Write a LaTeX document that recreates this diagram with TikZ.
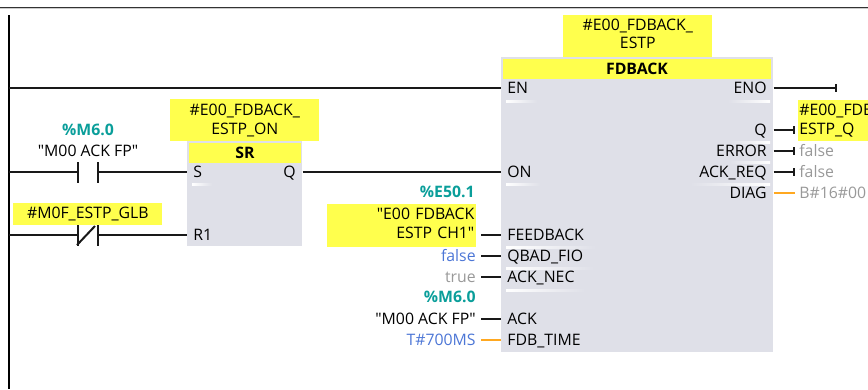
\documentclass[tikz,border=0pt]{standalone}
\usepackage{fontspec}
\defaultfontfeatures[\rmfamily]{}
\setmainfont{Open Sans}
\usepackage{xcolor}
\usetikzlibrary{arrows.meta}
\definecolor{opyellow}{HTML}{FFFF4D}
\definecolor{boxgray}{HTML}{DFE0E8}
\definecolor{addrteal}{HTML}{0A9E9A}
\definecolor{constblue}{HTML}{4C76D6}
\definecolor{constgray}{HTML}{999999}
\definecolor{wireorange}{HTML}{FFA820}
\newcommand{\lowpad}{\rule[-3pt]{0pt}{0pt}}
\tikzset{
	txt/.style={inner sep=0pt, font=\fontsize{9}{10.7}\selectfont, text=black},
	oneline/.style={txt, text height=6.5pt, text depth=0.5pt},
	pinl/.style={oneline, anchor=west},
	pinr/.style={oneline, anchor=east},
	opnd/.style={oneline, anchor=east},
	addr/.style={opnd, font=\fontsize{9}{10.7}\selectfont\bfseries, text=addrteal},
	yellowbox/.style={txt, fill=opyellow, minimum width=2.98cm, align=center},
	header/.style={oneline, fill=opyellow, font=\fontsize{9}{10.7}\selectfont\bfseries, minimum height=0.4cm},
	block/.style={fill=boxgray, inner sep=0pt},
	wire/.style={black!90, line width=0.04cm},
	owire/.style={wireorange, line width=0.04cm},
	endtick/.style={wire, -{Bar[width=0.15cm, line width=0.05cm]}},
	divl/.style={left color=white, right color=boxgray, draw=none},
	divr/.style={left color=boxgray, right color=white, draw=none}
}
\begin{document}
\begin{tikzpicture}[x=0.02cm, y=-0.02cm]
	\useasboundingbox (0,0) rectangle (868,389);
	% top border and power rail
	\draw[black!80, line width=0.02cm] (0,7)--(868,7);
	\draw[black!20, line width=0.02cm] (0,8.2)--(868,8.2);
	\coordinate (railtop) at (9,15);
	\coordinate (railbot) at (9,389);
	\draw[black, line width=0.045cm] (railtop)--(railbot);

	% blocks
	\node[block, minimum width=2.30cm, minimum height=2.10cm, anchor=north west] (sr) at (187,141) {};
	\node[block, minimum width=5.44cm, minimum height=5.90cm, anchor=north west] (fdback) at (501,57) {};
	\node[header, minimum width=2.24cm] (srhead) at (245,153) {SR};
	\node[header, minimum width=5.38cm] (fdhead) at (637,69) {FDBACK};

	% pin dividers
	\shade[divl] (192,183) rectangle (212,185);
	\shade[divl] (506,100) rectangle (537,102.5);
	\shade[divl] (506,183) rectangle (540,185.5);
	\shade[divl] (506,246) rectangle (596,248.5);
	\shade[divl] (506,267) rectangle (594,269.5);
	\shade[divl] (506,289) rectangle (585,291.5);
	\shade[divr] (728,100) rectangle (770,102.5);
	\shade[divr] (730,141) rectangle (770,143.5);
	\shade[divr] (730,161) rectangle (770,163.5);
	\shade[divr] (690,183) rectangle (770,185.5);

	% pins
	\node[pinl] (pinS) at (193,172) {S};
	\node[pinl] (pinRone) at (193,235) {R1};
	\node[pinr] (pinSRQ) at (296,172) {Q};
	\node[pinl] (pinEN) at (507,88) {EN};
	\node[pinl] (pinON) at (507,172) {ON};
	\node[pinl] (pinFB) at (507,235) {FEEDBACK};
	\node[pinl] (pinQBAD) at (507,256) {QBAD\_FIO};
	\node[pinl] (pinNEC) at (507,277) {ACK\_NEC};
	\node[pinl] (pinACK) at (507,319) {ACK};
	\node[pinl] (pinTIME) at (507,340) {FDB\_TIME};
	\node[pinr] (pinENO) at (767,88) {ENO};
	\node[pinr] (pinQ) at (767,130) {Q};
	\node[pinr] (pinERR) at (767,151) {ERROR};
	\node[pinr] (pinREQ) at (767,172) {ACK\_REQ};
	\node[pinr] (pinDIAG) at (767,193) {DIAG};

	% operands
	\node[yellowbox, minimum height=0.84cm, anchor=north west] (instfd) at (563,15) {\#E00\_FDBACK\_\\ESTP\lowpad};
	\node[yellowbox, minimum height=0.84cm, anchor=north west] (instsr) at (170,99) {\#E00\_FDBACK\_\\ESTP\_ON};
	\node[yellowbox, minimum height=0.44cm, anchor=north west] (opglb) at (13,203) {\#M0F\_ESTP\_GLB};
	\node[yellowbox, minimum height=0.86cm, anchor=north west, align=right, text width=2.90cm, inner xsep=0.04cm] (opch) at (327,204) {"E00 FDBACK\hspace{0.07cm}\\ESTP CH1"\lowpad};
	\node[yellowbox, minimum height=0.82cm, anchor=north west, align=left, text width=2.94cm, inner xsep=0.02cm] (opq) at (798,100) {\#E00\_FDBACK\_\\ESTP\_Q};
	\node[addr, anchor=center] (addrack) at (88,130) {\%M6.0};
	\node[oneline] (nameack) at (88,151) {"M00 ACK FP"};
	\node[addr] (addrch) at (475,192) {\%E50.1};
	\node[opnd, text=constblue] (opqbad) at (476,256) {false};
	\node[opnd, text=constgray] (opnec) at (476,277) {true};
	\node[addr] (addrackb) at (476,297) {\%M6.0};
	\node[opnd] (opack) at (476,319) {"M00 ACK FP"};
	\node[opnd, text=constblue] (optime) at (476,340) {T\#700MS};
	\node[pinl, text=constgray] (operr) at (799,151) {false};
	\node[pinl, text=constgray] (opreq) at (799,172) {false};
	\node[pinl, text=constgray] (opdiag) at (799,193) {B\#16\#00};

	% contacts
	\coordinate (noleft) at (78,172);
	\coordinate (noright) at (98,172);
	\coordinate (ncleft) at (78,235);
	\coordinate (ncright) at (98,235);
	\draw[wire] (78,162)--(78,183);
	\draw[wire] (98,162)--(98,183);
	\draw[wire] (78,225)--(78,246);
	\draw[wire] (98,225)--(98,246);
	\draw[wire] (77,245)--(95,226);

	% wires
	\draw[wire] (railtop |- pinEN)--(fdback.west |- pinEN);
	\draw[wire] (railtop |- noleft)--(noleft);
	\draw[wire] (noright)--(sr.west |- noright);
	\draw[wire] (railtop |- ncleft)--(ncleft);
	\draw[wire] (ncright)--(sr.west |- ncright);
	\draw[wire] (sr.east |- pinSRQ)--(fdback.west |- pinON);

	% input stubs
	\coordinate (stubx) at (481,0);
	\draw[wire] (stubx |- pinFB)--(fdback.west |- pinFB);
	\draw[wire] (stubx |- pinQBAD)--(fdback.west |- pinQBAD);
	\draw[wire] (stubx |- pinNEC)--(fdback.west |- pinNEC);
	\draw[wire] (stubx |- pinACK)--(fdback.west |- pinACK);
	\draw[owire] (stubx |- pinTIME)--(fdback.west |- pinTIME);

	% output stubs
	\coordinate (enoend) at (837,88);
	\coordinate (outx) at (795,0);
	\draw[endtick] (fdback.east |- pinENO)--(enoend);
	\draw[endtick] (fdback.east |- pinQ)--(outx |- pinQ);
	\draw[endtick] (fdback.east |- pinERR)--(outx |- pinERR);
	\draw[endtick] (fdback.east |- pinREQ)--(outx |- pinREQ);
	\draw[owire] (fdback.east |- pinDIAG)--(outx |- pinDIAG);
\end{tikzpicture}
\end{document}
